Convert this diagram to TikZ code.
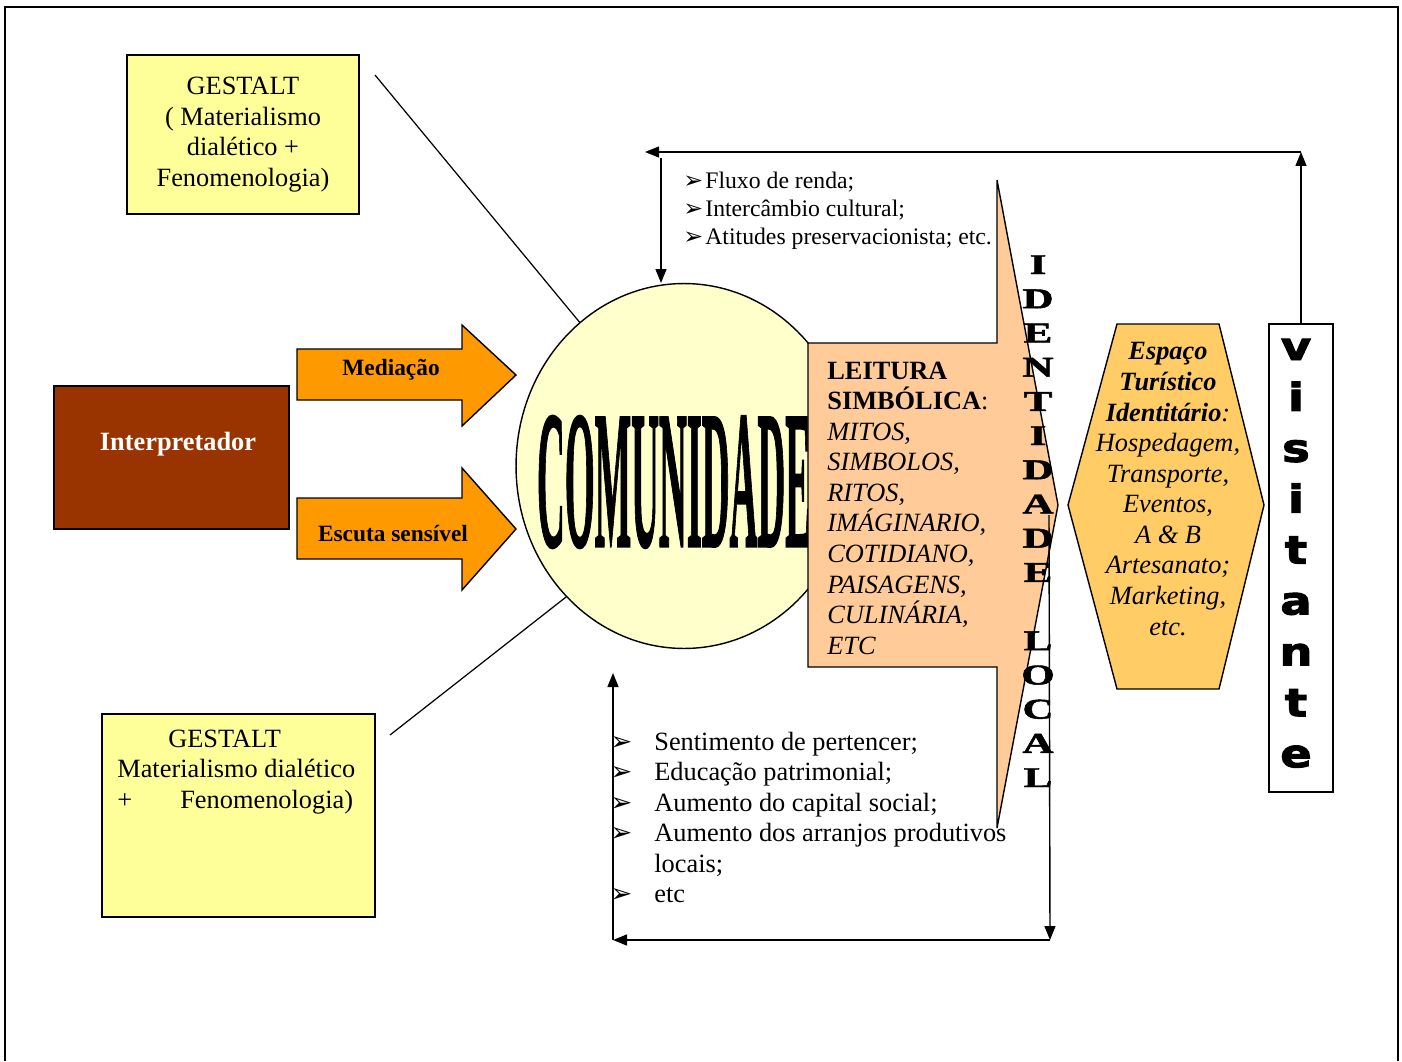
\documentclass[tikz,border=0pt]{standalone}
\usepackage{fontspec}
\setmainfont{Liberation Serif}
\newfontfamily\dejavu{DejaVu Sans}
\newfontfamily\heavyserif[FakeBold=1.5]{Liberation Serif Bold}
\newfontfamily\heavysans[FakeBold=2.5]{DejaVu Sans Bold}
\usepackage{graphicx}
\usepackage{xcolor}
\usetikzlibrary{arrows.meta,positioning,shapes.geometric}

\definecolor{gyellow}{HTML}{FFFF99}
\definecolor{interpbrown}{HTML}{993300}
\definecolor{arrorange}{HTML}{FF9900}
\definecolor{comyellow}{HTML}{FFFFCC}
\definecolor{peach}{HTML}{FFCC99}
\definecolor{espgold}{HTML}{FFCC66}

\newcommand{\txt}{\fontsize{15}{17.4}\selectfont}
\newcommand{\smalltxt}{\fontsize{13.5}{15.9}\selectfont}
\newcommand{\bala}{\makebox[0.44cm][l]{\dejavu ➢}}
\newcommand{\bull}{\llap{\makebox[0.88cm][l]{\dejavu ➢}}}

\begin{document}
\begin{tikzpicture}[x=0.02cm, y=-0.02cm, font=\txt,
    box/.style={draw, line width=0.8pt, inner sep=0pt},
    gbox/.style={box, fill=gyellow},
    fatarrow/.style={draw, line width=0.8pt, fill=arrorange},
    flow/.style={-{Triangle[length=0.28cm,width=0.22cm]}, line width=0.8pt},
    link/.style={line width=0.7pt},
    arrowtext/.style={inner sep=0pt, font=\fontsize{13.3}{16}\selectfont\bfseries},
    idletter/.style={anchor=base, inner sep=0pt, font=\heavyserif\fontsize{16.3}{16.3}\selectfont},
    visletter/.style={anchor=base, inner sep=0pt, font=\heavysans\fontsize{22}{22}\selectfont}]

    \useasboundingbox (0,0) rectangle (1402,1061);
    \draw[line width=1pt] (5,1061) -- (5,7) -- (1398,7) -- (1398,1061);

    % left column
    \node[gbox, minimum width=4.64cm, minimum height=3.18cm, align=center] (gtop) at (243,134.5)
        {GESTALT\\( Materialismo\\dialético +\\Fenomenologia)};
    \node[gbox, minimum width=5.46cm, minimum height=4.06cm] (gbot) at (238.5,815.5) {};
    \node[anchor=west, align=left, inner sep=0pt] (gbottxt) at (117,772)
        {\hspace*{1.02cm}GESTALT\\Materialismo dialético\\\makebox[1.26cm][l]{+}Fenomenologia)};

    \node[box, fill=interpbrown, minimum width=4.7cm, minimum height=2.86cm] (interp) at (171.5,457.5) {};
    \node[text=white, inner sep=0pt, font=\txt\bfseries] (interplabel) at (178,444) {Interpretador};

    % block arrows
    \draw[fatarrow] (297,349) -- (462,349) -- (462,325) -- (516,375) -- (462,426) -- (462,400) -- (297,400) -- cycle;
    \node[arrowtext] (mediacao) at (391,370) {Mediação};
    \draw[fatarrow] (297,498) -- (462,498) -- (462,468) -- (516,529) -- (462,590) -- (462,559) -- (297,559) -- cycle;
    \node[arrowtext] (escuta) at (393,534) {Escuta sensível};

    % comunidade
    \node[ellipse, draw, line width=0.8pt, fill=comyellow, minimum width=6.72cm, minimum height=7.3cm,
          inner sep=0pt] (com) at (684,466) {};
    \coordinate (gtopend) at (375,75);
    \coordinate (gbotend) at (390,735);
    \draw[link] (gtopend) -- (com.126);
    \draw[link] (gbotend) -- (com.228);
    \node[inner sep=0pt] (comlabel) at (674,482) {\resizebox{5.48cm}{2.6cm}{\heavyserif COMUNIDADE}};

    % leitura simbolica
    \draw[line width=0.8pt, fill=peach] (808,343) -- (997,343) -- (997,180) -- (1058,505)
        -- (997,828) -- (997,667) -- (808,667) -- cycle;
    \node[anchor=west, align=left, inner sep=0pt] (leitura) at (827,508)
        {{\bfseries LEITURA}\\{\bfseries SIMBÓLICA}:\\\itshape MITOS,\\\itshape SIMBOLOS,\\\itshape RITOS,\\
         \itshape IMÁGINARIO,\\\itshape COTIDIANO,\\\itshape PAISAGENS,\\\itshape CULINÁRIA,\\\itshape ETC};

    \foreach \l [count=\i] in {I,D,E,N,T,I,D,A,D,E,{},L,O,C,A,L}
        \node[idletter] (id\i) at (1038,{274+34.2*(\i-1)}) {\scalebox{1.5}[1]{\l}};

    % espaco turistico
    \draw[line width=0.8pt, fill=espgold] (1117,324) -- (1219,324) -- (1264,505) -- (1219,689)
        -- (1117,689) -- (1068,505) -- cycle;
    \node[align=center, inner sep=0pt, font=\txt\itshape] (espaco) at (1168,489)
        {{\bfseries Espaço}\\{\bfseries Turístico}\\{\bfseries Identitário}:\\Hospedagem,\\Transporte,\\
         Eventos,\\A \& B\\Artesanato;\\Marketing,\\etc.};

    % visitante
    \node[box, fill=white, minimum width=1.28cm, minimum height=9.36cm] (vis) at (1301,558) {};
    \foreach \l [count=\i] in {v,i,s,i,t,a,n,t,e}
        \node[visletter] (vis\i) at (1296,{360+50.9*(\i-1)}) {\scalebox{1.2}[1]{\l}};

    % retorno superior
    \coordinate (topR) at (1301,152);
    \coordinate (topL) at (645,152);
    \coordinate (downS) at (661,158);
    \coordinate (downE) at (661,283);
    \draw[flow] (vis.north) -- (topR);
    \draw[flow] (topR) -- (topL);
    \draw[flow] (downS) -- (downE);
    \node[anchor=west, align=left, inner sep=0pt, font=\smalltxt] (fluxo) at (683,211)
        {\bala Fluxo de renda;\\\bala Intercâmbio cultural;\\\bala Atitudes preservacionista; etc.};

    % retorno inferior
    \coordinate (tipS) at (1049,515);
    \coordinate (botR) at (1050,940);
    \coordinate (botL) at (613,940);
    \coordinate (upE) at (613,673);
    \draw[flow] (tipS) -- (botR);
    \draw[flow] (botR) -- (botL);
    \draw[flow] (botL) -- (upE);
    \node[anchor=west, align=left, inner sep=0pt] (lista) at (654,817.5)
        {\bull Sentimento de pertencer;\\\bull Educação patrimonial;\\\bull Aumento do capital social;\\
         \bull Aumento dos arranjos produtivos\\locais;\\\bull etc};
\end{tikzpicture}
\end{document}
